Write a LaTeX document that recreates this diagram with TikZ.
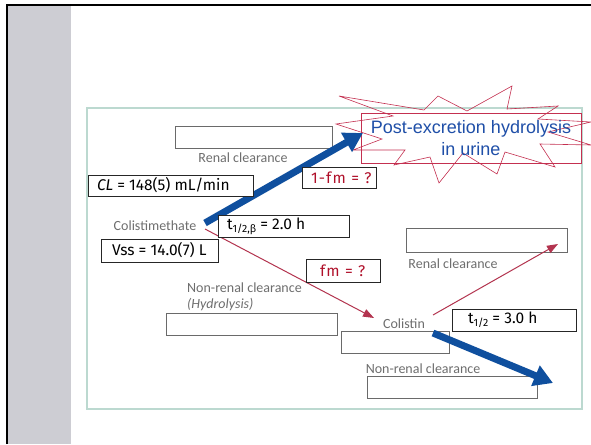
\documentclass[tikz,border=0pt]{standalone}
\usepackage{fontspec}
\setmainfont{Liberation Sans}
\newfontfamily\valfont{Fira Sans}
\newfontfamily\redfont[LetterSpace=8]{Fira Sans}
\newfontfamily\lancet{Carlito}
\usetikzlibrary{arrows.meta}
\definecolor{slidegray}{HTML}{CDCDD3}
\definecolor{framec}{HTML}{BCD9D0}
\definecolor{txtgray}{HTML}{6E6E6E}
\definecolor{bigblue}{HTML}{0F4F9E}
\definecolor{thinred}{HTML}{B3344F}
\definecolor{labred}{HTML}{B0102A}
\definecolor{postblue}{HTML}{1F4FA8}
\definecolor{starred}{HTML}{C43050}
\definecolor{boxgray}{HTML}{6A6A6A}
\tikzset{
  emptybox/.style={draw=boxgray, line width=0.7pt, inner sep=0pt},
  valbox/.style={draw=black!85, fill=white, line width=0.7pt, inner sep=0pt,
                 font=\valfont\fontsize{15.5}{18}\selectfont, text=black},
  redbox/.style={draw=black!85, fill=white, line width=0.7pt, inner sep=0pt,
                 text=labred, font=\redfont\fontsize{15.5}{18}\selectfont},
  graytxt/.style={text=txtgray, font=\lancet\fontsize{14}{17}\selectfont, inner sep=0pt},
  bigarrow/.style={draw=bigblue, line width=7pt, -{Triangle[length=19pt,width=21pt]}},
  thinarrow/.style={draw=thinred, line width=1pt, -{Triangle[length=11pt,width=8pt]}},
}
% box text: left padding, then the text on one line, inside a fixed-width box
\newcommand{\padtxt}[3]{\makebox[#1][l]{\hspace*{#2}#3}}
\newcommand{\subtxt}[1]{\raisebox{-0.35ex}{\fontsize{10.5}{10.5}\selectfont #1}}
\begin{document}
\begin{tikzpicture}[x=1pt,y=-1pt]
\useasboundingbox (0,0) rectangle (591,444);
% slide
\fill[white] (0,0) rectangle (591,444);
\fill[slidegray] (8,6) rectangle (71,444);
\draw[black, line width=2.5pt] (7,444) -- (7,5) -- (591,5);
% diagram frame
\draw[framec, line width=1.5pt] (87,108) rectangle (582,409);
% starburst
\draw[starred, line width=0.6pt]
  (339,96) -- (424,110) -- (438,96) -- (467,111) -- (512,86) -- (507,109)
  -- (558,106) -- (538,119) -- (591,122) -- (548,132) -- (591,145) -- (540,144)
  -- (555,167) -- (505,152) -- (497,174) -- (463,153) -- (439,183) -- (430,157)
  -- (394,165) -- (405,150) -- (353,150) -- (382,139) -- (336,124) -- (393,116) -- cycle;
% post-excretion box
\node[draw=starred, line width=0.6pt, minimum width=220pt, minimum height=50pt, inner sep=0pt,
      align=center, text=postblue, font=\fontsize{18}{22}\selectfont] (post) at (471,138)
  {Post-excretion hydrolysis\\in urine};
% empty boxes
\node[emptybox, minimum width=157pt, minimum height=22pt] (eA) at (253.5,137) {};
\node[emptybox, minimum width=171pt, minimum height=22pt] (eB) at (251.5,324) {};
\node[emptybox, minimum width=161pt, minimum height=24pt] (eC) at (486.5,240) {};
\node[emptybox, minimum width=108pt, minimum height=22pt] (eD) at (395,342) {};
\node[emptybox, minimum width=170pt, minimum height=22pt] (eE) at (452,387) {};
% gray texts
\node[graytxt] (renal1) at (243,158) {Renal clearance};
\node[graytxt] (cms) at (155,226) {Colistimethate};
\node[graytxt, anchor=west] (nr1) at (187,288) {Non-renal clearance};
\node[graytxt, anchor=west] (hyd) at (187,305) {\itshape (Hydrolysis)};
\node[graytxt] (renal2) at (453,264) {Renal clearance};
\node[graytxt] (col) at (404,324) {Colistin};
\node[graytxt] (nr2) at (423,369) {Non-renal clearance};
% arrows
\coordinate (b1s) at (205,223);
\coordinate (b1e) at (363,133);
\coordinate (b2s) at (433,333);
\coordinate (b2e) at (553,383);
\coordinate (r1s) at (205,229);
\coordinate (r1e) at (374,318);
\coordinate (r2s) at (433,315);
\coordinate (r2e) at (558,244);
\draw[thinarrow] (r1s) -- (r1e);
\draw[thinarrow] (r2s) -- (r2e);
\draw[bigarrow] (b1s) -- (b1e);
\draw[bigarrow] (b2s) -- (b2e);
% value boxes
\node[valbox, minimum height=21pt] (cl) at (170.5,185.5) {\padtxt{165pt}{9pt}{\textit{CL} = 148(5) mL/min}};
\node[valbox, minimum height=22pt] (th1) at (283.5,226) {\padtxt{131pt}{9pt}{t\subtxt{1/2,β} = 2.0 h}};
\node[valbox, minimum height=23pt] (vss) at (159.5,250.5) {\padtxt{117pt}{11pt}{Vss = 14.0(7) L}};
\node[redbox, minimum height=21pt] (omf) at (339,177.5) {\padtxt{74pt}{9pt}{1-fm = ?}};
\node[redbox, minimum height=23pt] (fm) at (343,270.5) {\padtxt{74pt}{14pt}{fm = ?}};
\node[valbox, minimum height=22pt] (th2) at (514,320) {\padtxt{124pt}{16pt}{t\subtxt{1/2} = 3.0 h}};
\end{tikzpicture}
\end{document}
